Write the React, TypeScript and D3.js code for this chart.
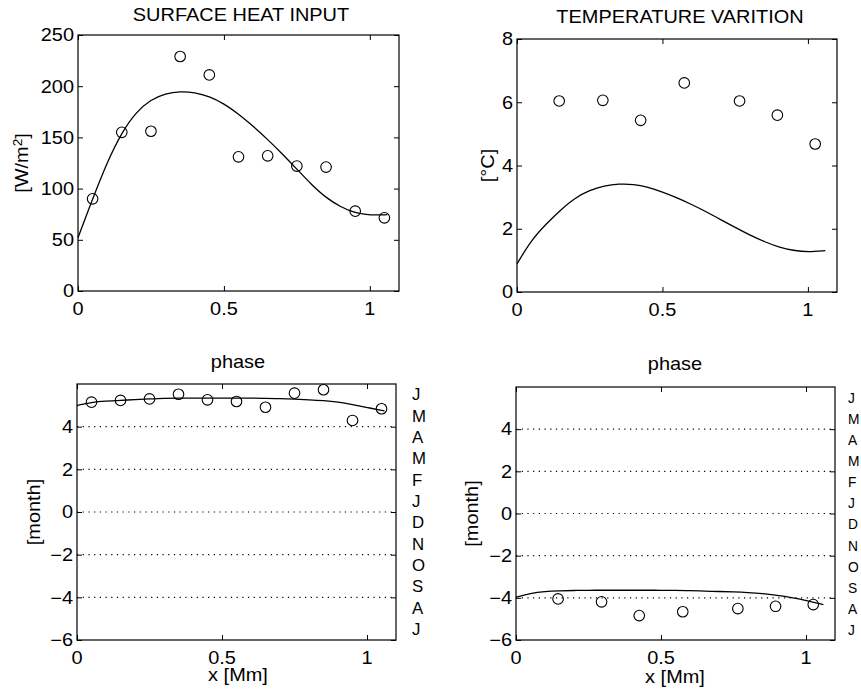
import React, { useEffect, useRef } from 'react';
import * as d3 from 'd3';

const FONT = '"Liberation Sans", Arial, Helvetica, sans-serif';

// ---------- data ----------
const stationX = [0.05, 0.15, 0.25, 0.35, 0.45, 0.55, 0.65, 0.75, 0.85, 0.95, 1.05];
const heatObs = [90, 155, 156, 229, 211, 131, 132, 122, 121, 78, 71.5];
const fitX = [0, 0.05, 0.1, 0.15, 0.2, 0.25, 0.3, 0.35, 0.4, 0.45, 0.5, 0.55, 0.6, 0.65, 0.7, 0.75, 0.8, 0.85, 0.9, 0.95, 1.0, 1.06];
const heatFit = [52, 90, 126, 155, 175, 187, 193, 195, 194, 190, 183, 173, 161, 148, 134, 119, 104, 91, 82, 76, 74, 74.5];

const tempX = [0.145, 0.295, 0.425, 0.575, 0.765, 0.895, 1.025];
const tempObs = [6.04, 6.06, 5.43, 6.61, 6.04, 5.59, 4.68];
const tempFit = [0.89, 1.65, 2.15, 2.6, 2.98, 3.22, 3.36, 3.42, 3.41, 3.32, 3.16, 2.98, 2.77, 2.54, 2.29, 2.04, 1.8, 1.59, 1.42, 1.31, 1.26, 1.31];

const phase1Obs = [5.15, 5.23, 5.3, 5.52, 5.26, 5.18, 4.91, 5.57, 5.73, 4.29, 4.84];
const phase1Fit = [4.99, 5.15, 5.2, 5.23, 5.27, 5.3, 5.33, 5.34, 5.34, 5.34, 5.34, 5.34, 5.34, 5.33, 5.31, 5.29, 5.26, 5.22, 5.16, 5.04, 4.9, 4.74];

const phase2Obs = [-4.05, -4.19, -4.84, -4.66, -4.51, -4.4, -4.32];
const phase2Fit = [-3.97, -3.78, -3.7, -3.67, -3.65, -3.64, -3.64, -3.64, -3.64, -3.64, -3.64, -3.65, -3.66, -3.68, -3.7, -3.72, -3.75, -3.8, -3.88, -3.98, -4.12, -4.32];

const monthLabels = ['J', 'M', 'A', 'M', 'F', 'J', 'D', 'N', 'O', 'S', 'A', 'J'];
const monthPos = [5.5, 4.5, 3.5, 2.5, 1.5, 0.5, -0.5, -1.5, -2.5, -3.5, -4.5, -5.5];

const xTicks = [0, 0.5, 1];
const xTickLabels = ['0', '0.5', '1'];
const heatTicks = [0, 50, 100, 150, 200, 250];
const tempTicks = [0, 2, 4, 6, 8];
const phaseTicks = [-6, -4, -2, 0, 2, 4];
const phaseGrid = [-4, -2, 0, 2, 4];

// ---------- layout ----------
type Panel = {
  left: number; right: number; top: number; bottom: number;
  yDomain: [number, number]; yTicks: number[]; grid?: number[];
  title: string; titleX: number; titleY: number;
  ylabel: 'wm2' | 'degc' | 'month'; ylabelX: number;
  xlabel?: { x: number; y: number };
  monthsX?: number; monthSize?: number; monthSx?: number;
  obsX: number[]; obs: number[]; fit: number[];
};

const panels: Panel[] = [
  { left: 78, right: 399, top: 35, bottom: 291, yDomain: [0, 250], yTicks: heatTicks,
    title: 'SURFACE HEAT INPUT', titleX: 241, titleY: 21, ylabel: 'wm2', ylabelX: 28,
    obsX: stationX, obs: heatObs, fit: heatFit },
  { left: 517, right: 837, top: 39, bottom: 292, yDomain: [0, 8], yTicks: tempTicks,
    title: 'TEMPERATURE VARITION', titleX: 680, titleY: 23, ylabel: 'degc', ylabelX: 494,
    obsX: tempX, obs: tempObs, fit: tempFit },
  { left: 77, right: 396, top: 384, bottom: 640, yDomain: [-6, 6], yTicks: phaseTicks, grid: phaseGrid,
    title: 'phase', titleX: 238, titleY: 368, ylabel: 'month', ylabelX: 40,
    xlabel: { x: 238, y: 681 }, monthsX: 412, monthSize: 16, monthSx: 1.05,
    obsX: stationX, obs: phase1Obs, fit: phase1Fit },
  { left: 516, right: 835, top: 387, bottom: 640, yDomain: [-6, 6], yTicks: phaseTicks, grid: phaseGrid,
    title: 'phase', titleX: 675, titleY: 370, ylabel: 'month', ylabelX: 478,
    xlabel: { x: 675, y: 683 }, monthsX: 848, monthSize: 15, monthSx: 0.92,
    obsX: tempX, obs: phase2Obs, fit: phase2Fit },
];

const FS = 17.5;
const SX = 1.14;

export default function App() {
  const ref = useRef<SVGSVGElement | null>(null);

  useEffect(() => {
    const svg = d3.select(ref.current);
    svg.selectAll('*').remove();

    const text = (g: any, x: number, y: number, s: string, opts: any = {}) => {
      const t = g.append('text')
        .attr('transform', `translate(${x},${y}) rotate(${opts.rot || 0}) scale(${opts.sx ?? SX},1)`)
        .attr('text-anchor', opts.anchor || 'middle')
        .attr('font-family', FONT)
        .attr('font-size', opts.size || FS)
        .attr('fill', '#000');
      if (opts.dy) t.attr('dy', opts.dy);
      t.text(s);
      return t;
    };

    panels.forEach((p) => {
      const x = d3.scaleLinear().domain([0, 1.1]).range([p.left, p.right]);
      const y = d3.scaleLinear().domain(p.yDomain).range([p.bottom, p.top]);
      const g = svg.append('g');

      // grid
      if (p.grid) {
        g.selectAll('line.grid').data(p.grid).enter().append('line')
          .attr('x1', p.left).attr('x2', p.right)
          .attr('y1', (d: number) => y(d)).attr('y2', (d: number) => y(d))
          .attr('stroke', '#000').attr('stroke-width', 1.1)
          .attr('stroke-dasharray', '1.2,4.5');
      }

      // axes via d3-axis (inward ticks, no domain path)
      const mk = (axis: any, tx: number, ty: number) => {
        const a = g.append('g').attr('transform', `translate(${tx},${ty})`).call(axis);
        a.select('.domain').remove();
        a.selectAll('line').attr('stroke', '#000').attr('stroke-width', 1);
        return a;
      };
      mk(d3.axisBottom(x).tickValues(xTicks).tickSize(-5).tickFormat(() => ''), 0, p.bottom);
      mk(d3.axisTop(x).tickValues(xTicks).tickSize(-5).tickFormat(() => ''), 0, p.top);
      mk(d3.axisLeft(y).tickValues(p.yTicks).tickSize(-5).tickFormat(() => ''), p.left, 0);
      mk(d3.axisRight(y).tickValues(p.yTicks).tickSize(-5).tickFormat(() => ''), p.right, 0);

      // tick labels
      xTicks.forEach((v, i) => text(g, x(v), p.bottom + 24, xTickLabels[i]));
      p.yTicks.forEach((v) => {
        const s = v < 0 ? '\u2212' + Math.abs(v) : String(v);
        text(g, p.left - 4, y(v), s, { anchor: 'end', dy: '0.36em' });
      });

      // frame
      g.append('rect')
        .attr('x', p.left).attr('y', p.top)
        .attr('width', p.right - p.left).attr('height', p.bottom - p.top)
        .attr('fill', 'none').attr('stroke', '#000').attr('stroke-width', 1.2);

      // fit curve
      const line = d3.line<number>()
        .x((_d, i) => x(fitX[i]))
        .y((d) => y(d))
        .curve(d3.curveBasis);
      g.append('path').attr('d', line(p.fit) as string)
        .attr('fill', 'none').attr('stroke', '#000').attr('stroke-width', 1.3);

      // observations
      g.selectAll('circle.obs').data(p.obs).enter().append('circle')
        .attr('cx', (_d: number, i: number) => x(p.obsX[i]))
        .attr('cy', (d: number) => y(d))
        .attr('r', 5.3)
        .attr('fill', 'none').attr('stroke', '#000').attr('stroke-width', 1.1);

      // title
      text(g, p.titleX, p.titleY, p.title);

      // y label
      const cy = (p.top + p.bottom) / 2;
      if (p.ylabel === 'wm2') {
        const t = text(g, p.ylabelX, cy, '', { rot: -90 });
        t.append('tspan').text('[W/m');
        t.append('tspan').attr('dy', -6).attr('font-size', 12).text('2');
        t.append('tspan').attr('dy', 6).text(']');
      } else if (p.ylabel === 'degc') {
        text(g, p.ylabelX, cy, '[\u00B0C]', { rot: -90 });
      } else {
        text(g, p.ylabelX, cy, '[month]', { rot: -90 });
      }

      // x label
      if (p.xlabel) text(g, p.xlabel.x, p.xlabel.y, 'x [Mm]');

      // month labels
      if (p.monthsX !== undefined) {
        monthLabels.forEach((m, i) => {
          text(g, p.monthsX as number, y(monthPos[i]), m, {
            anchor: 'start', dy: '0.36em', size: p.monthSize, sx: p.monthSx,
          });
        });
      }
    });
  }, []);

  return (
    <svg
      ref={ref}
      width={861}
      height={696}
      style={{ position: 'absolute', left: 0, top: 0, background: '#fff' }}
    />
  );
}
